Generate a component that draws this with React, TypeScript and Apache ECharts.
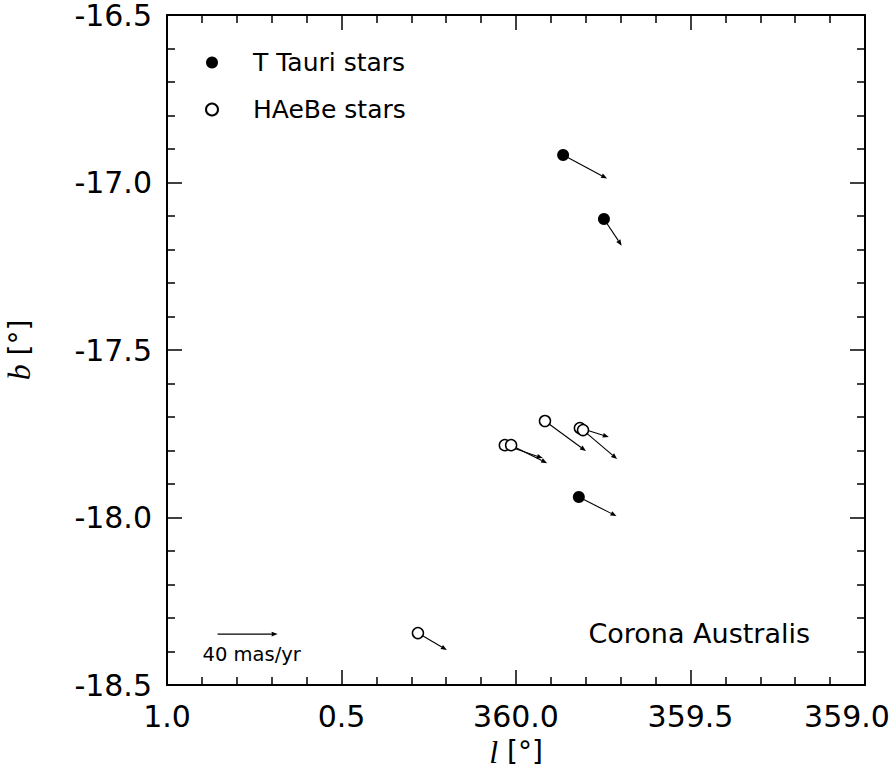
import React, { useEffect, useRef } from "react";
import * as echarts from "echarts";

// ---- Data ----
// Galactic coordinates (l in degrees, b in degrees) and proper motions (mas/yr)
const TTAURI_L = [359.865, 359.748, 359.82];
const TTAURI_B = [-16.918, -17.109, -17.939];
const TTAURI_PML = [-29.3, -11.8, -25.1];
const TTAURI_PMB = [-16.3, -18.5, -13.2];

const HAEBE_L = [359.917, 359.817, 359.808, 0.032, 0.014, 0.281];
const HAEBE_B = [-17.712, -17.733, -17.739, -17.784, -17.784, -18.345];
const HAEBE_PML = [-27.3, -19.3, -22.7, -25.3, -24.0, -19.3];
const HAEBE_PMB = [-20.8, -6.2, -20.1, -9.0, -12.5, -11.8];

const SERIES_NAMES = ["T Tauri stars", "HAeBe stars"];
const REGION_NAME = "Corona Australis";

// Reference arrow (scale bar)
const SCALE_PM = 40; // mas/yr
const SCALE_ANCHOR_L = 0.855;
const SCALE_ANCHOR_B = -18.348;
const SCALE_LABEL = `${SCALE_PM} mas/yr`;

// Arrow length scale: degrees on the plot per mas/yr of proper motion
const DEG_PER_MAS = 0.0043;

// Axis ranges (l expressed as offset from 360 for continuity)
const X_MIN = -1;
const X_MAX = 1;
const X_INTERVAL = 0.5;
const Y_MIN = -18.5;
const Y_MAX = -16.5;
const Y_INTERVAL = 0.5;

const toX = (l: number) => (l > 180 ? l - 360 : l);
const fmtL = (v: number) => {
  const l = v <= 0 ? 360 + v : v;
  const s = l.toFixed(1);
  // the right-most label sits against the page edge
  return v === X_MIN ? `{edge|${s}}` : s;
};

const FONT = "DejaVu Sans";

function arrowItem(params: any, api: any) {
  const x = api.value(0);
  const y = api.value(1);
  const pl = api.value(2);
  const pb = api.value(3);
  const p0 = api.coord([x, y]);
  const p1 = api.coord([x + pl * DEG_PER_MAS, y + pb * DEG_PER_MAS]);
  const ang = Math.atan2(p1[1] - p0[1], p1[0] - p0[0]);
  const L = 6;
  const W = 2.4;
  const bx = p1[0] - L * Math.cos(ang);
  const by = p1[1] - L * Math.sin(ang);
  const nx = -Math.sin(ang) * W;
  const ny = Math.cos(ang) * W;
  return {
    type: "group",
    children: [
      {
        type: "line",
        shape: { x1: p0[0], y1: p0[1], x2: bx, y2: by },
        style: { stroke: "#000", lineWidth: 1.1 },
      },
      {
        type: "polygon",
        shape: {
          points: [
            [p1[0], p1[1]],
            [bx + nx, by + ny],
            [bx - nx, by - ny],
          ],
        },
        style: { fill: "#000" },
      },
    ],
  };
}

function scaleItem(params: any, api: any) {
  const g: any = arrowItem(params, api);
  const p0 = api.coord([api.value(0), api.value(1)]);
  g.children.push({
    type: "text",
    x: p0[0] - 15,
    y: p0[1] + 20,
    style: {
      text: SCALE_LABEL,
      fontFamily: FONT,
      fontSize: 19.5,
      fill: "#000",
      align: "left",
      verticalAlign: "middle",
    },
  });
  return g;
}

export default function App() {
  const ref = useRef<HTMLDivElement>(null);

  useEffect(() => {
    if (!ref.current) return;
    const chart = echarts.init(ref.current, null, { renderer: "svg" });

    const ttPoints = TTAURI_L.map((l, i) => [toX(l), TTAURI_B[i]]);
    const hPoints = HAEBE_L.map((l, i) => [toX(l), HAEBE_B[i]]);
    const ttArrows = TTAURI_L.map((l, i) => [toX(l), TTAURI_B[i], TTAURI_PML[i], TTAURI_PMB[i]]);
    const hArrows = HAEBE_L.map((l, i) => [toX(l), HAEBE_B[i], HAEBE_PML[i], HAEBE_PMB[i]]);

    const axisLine = { show: true, onZero: false, lineStyle: { color: "#000", width: 2 } };
    const axisTick = { show: true, inside: true, length: 15, lineStyle: { color: "#000", width: 1.5 } };
    const minorTick = { show: true, splitNumber: 5, length: 8, lineStyle: { color: "#000", width: 1.5 } };

    const option: any = {
      animation: false,
      backgroundColor: "#fff",
      grid: {
        left: 167,
        right: 26,
        top: 15,
        bottom: 86,
        containLabel: false,
        outerBoundsMode: "none",
      },
      legend: {
        data: SERIES_NAMES,
        orient: "vertical",
        left: 200,
        top: 45,
        itemWidth: 12,
        itemHeight: 12,
        itemGap: 22,
        selectedMode: false,
        textStyle: {
          fontFamily: FONT,
          fontSize: 25,
          color: "#000",
          lineHeight: 24,
          padding: [0, 0, 0, 30],
        },
      },
      xAxis: [
        {
          type: "value",
          position: "bottom",
          min: X_MIN,
          max: X_MAX,
          interval: X_INTERVAL,
          inverse: true,
          axisLine,
          axisTick,
          minorTick,
          splitLine: { show: false },
          axisLabel: {
            formatter: fmtL,
            fontFamily: FONT,
            fontSize: 30,
            color: "#000",
            margin: 16,
            showMinLabel: true,
            showMaxLabel: true,
            rich: {
              edge: { fontFamily: FONT, fontSize: 30, color: "#000", padding: [0, 36, 0, 0] },
            },
          },
          name: "{i|l} [°]",
          nameLocation: "middle",
          nameGap: 47,
          nameTextStyle: {
            fontFamily: FONT,
            fontSize: 28,
            color: "#000",
            rich: {
              i: { fontFamily: "Liberation Serif", fontStyle: "italic", fontSize: 32, color: "#000" },
            },
          },
        },
        {
          type: "value",
          position: "top",
          min: X_MIN,
          max: X_MAX,
          interval: X_INTERVAL,
          inverse: true,
          axisLine,
          axisTick,
          minorTick,
          splitLine: { show: false },
          axisLabel: { show: false },
        },
      ],
      yAxis: [
        {
          type: "value",
          position: "left",
          min: Y_MIN,
          max: Y_MAX,
          interval: Y_INTERVAL,
          axisLine,
          axisTick,
          minorTick,
          splitLine: { show: false },
          axisLabel: {
            formatter: (v: number) => v.toFixed(1),
            fontFamily: FONT,
            fontSize: 30,
            lineHeight: 26,
            color: "#000",
            margin: 15,
            showMinLabel: true,
            showMaxLabel: true,
          },
          name: "{i|b} [°]",
          nameLocation: "middle",
          nameGap: 132,
          nameTextStyle: {
            fontFamily: FONT,
            fontSize: 28,
            color: "#000",
            rich: {
              i: { fontFamily: "Liberation Serif", fontStyle: "italic", fontSize: 32, color: "#000" },
            },
          },
        },
        {
          type: "value",
          position: "right",
          min: Y_MIN,
          max: Y_MAX,
          interval: Y_INTERVAL,
          axisLine,
          axisTick,
          minorTick,
          splitLine: { show: false },
          axisLabel: { show: false },
        },
      ],
      graphic: [
        {
          type: "text",
          x: 810,
          y: 633,
          style: {
            text: REGION_NAME,
            fontFamily: FONT,
            fontSize: 27,
            fill: "#000",
            align: "right",
            verticalAlign: "middle",
          },
        },
      ],
      series: [
        {
          type: "custom",
          name: "T Tauri PM",
          renderItem: arrowItem,
          data: ttArrows,
          encode: { x: 0, y: 1 },
          clip: false,
          silent: true,
          z: 1,
        },
        {
          type: "custom",
          name: "HAeBe PM",
          renderItem: arrowItem,
          data: hArrows,
          encode: { x: 0, y: 1 },
          clip: false,
          silent: true,
          z: 1,
        },
        {
          type: "custom",
          name: "scale",
          renderItem: scaleItem,
          data: [[SCALE_ANCHOR_L, SCALE_ANCHOR_B, -SCALE_PM, 0]],
          encode: { x: 0, y: 1 },
          clip: false,
          silent: true,
          z: 1,
        },
        {
          type: "scatter",
          name: SERIES_NAMES[0],
          data: ttPoints,
          symbol: "circle",
          symbolSize: 12,
          itemStyle: { color: "#000", opacity: 1 },
          silent: true,
          z: 3,
        },
        {
          type: "scatter",
          name: SERIES_NAMES[1],
          data: hPoints,
          symbol: "circle",
          symbolSize: 11,
          itemStyle: { color: "#fff", borderColor: "#000", borderWidth: 1.5, opacity: 1 },
          silent: true,
          z: 3,
        },
      ],
    };

    chart.setOption(option);
    return () => chart.dispose();
  }, []);

  return (
    <div
      ref={ref}
      style={{ position: "fixed", left: 0, top: 0, width: 891, height: 771, background: "#fff" }}
    />
  );
}
